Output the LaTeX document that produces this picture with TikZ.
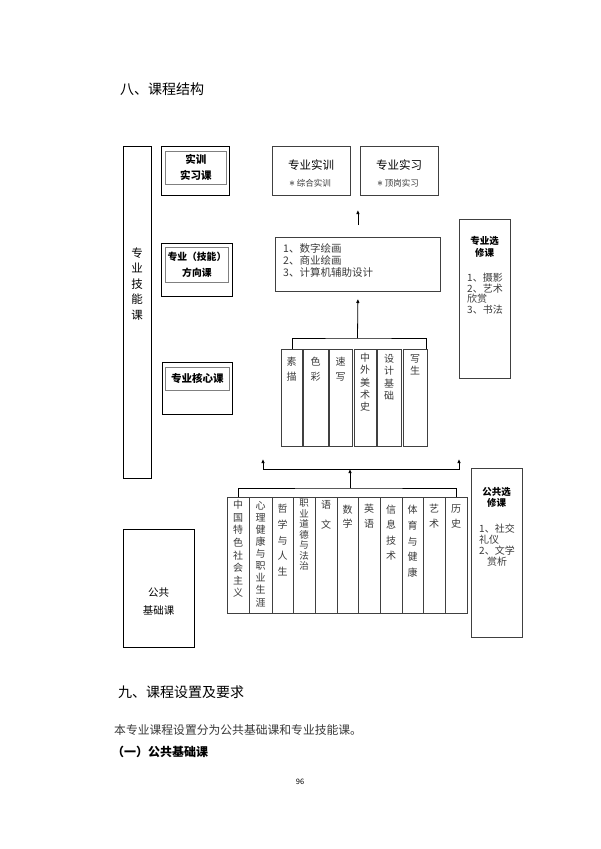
\documentclass[tikz,border=0pt]{standalone}
\usepackage{fontspec}
\setmainfont{Noto Sans CJK SC}
\usepackage{xcolor}
\usepackage{tikz}
\usetikzlibrary{arrows.meta}
\definecolor{framegray}{HTML}{808080}
\definecolor{textgray}{HTML}{3A3A3A}
\tikzset{
  upArrow/.style={-{Latex[length=4pt,width=3.5pt]},line width=0.8pt},
  framebox/.style={draw,line width=1.4pt,inner sep=0pt,anchor=north west},
  titlebox/.style={draw=framegray,line width=0.8pt,inner sep=0pt,anchor=north west,align=center,font=\fontsize{10.5}{16}\selectfont\bfseries},
  coursebox/.style={draw=black!75,line width=0.8pt,inner sep=0pt,anchor=north west},
  coltext/.style={anchor=north,inner sep=0pt,align=center,text=textgray,font=\fontsize{10}{#1}\selectfont},
  listtext/.style={anchor=north west,inner sep=0pt,align=left,text=textgray},
}
\newcommand{\starmark}{{\fontsize{12}{12}\selectfont$\ast$}}

\begin{document}
\begin{tikzpicture}[x=1pt,y=-1pt]
  \fill[white] (0,0) rectangle (600,849);
  \useasboundingbox (0,0) rectangle (600,849);
  \node[anchor=west,inner sep=0pt,font=\fontsize{14}{14}\selectfont] (headA) at (120,89) {八、课程结构};

  \node[framebox,line width=1.3pt,minimum width=28,minimum height=332] (jineng) at (123,146) {};
  \node[coltext=15.5,text=black,font=\fontsize{11.5}{15.5}\selectfont] (jinengT) at (137,247.5) {专\\业\\技\\能\\课};

  \node[framebox,minimum width=68,minimum height=49] (shixiA) at (161,146) {};
  \node[titlebox,minimum width=61,minimum height=33] (shixiB) at (165,151) {实训\\实习课};
  \node[framebox,minimum width=71,minimum height=53] (fangxiangA) at (161,243) {};
  \node[titlebox,minimum width=63,minimum height=35,font=\fontsize{9.8}{16}\selectfont\bfseries] (fangxiangB) at (165,247) {专业（技能）\\方向课};
  \node[framebox,minimum width=70,minimum height=52] (hexinA) at (162,362) {};
  \node[titlebox,minimum width=64,minimum height=23] (hexinB) at (165,367) {专业核心课};

  \node[coursebox,minimum width=78,minimum height=49] (zyshixun) at (272,146) {};
  \node[font=\fontsize{11.5}{12}\selectfont,inner sep=0pt] (zyshixunT) at (311,165) {专业实训};
  \node[font=\fontsize{8.5}{9}\selectfont,inner sep=0pt] (zyshixunS) at (310,183) {\starmark\ \textcolor{textgray}{综合实训}};
  \node[coursebox,minimum width=78,minimum height=49] (zyshixi) at (360,146) {};
  \node[font=\fontsize{11.5}{12}\selectfont,inner sep=0pt] (zyshixiT) at (399,165) {专业实习};
  \node[font=\fontsize{8.5}{9}\selectfont,inner sep=0pt] (zyshixiS) at (398,183) {\starmark\ \textcolor{textgray}{顶岗实习}};

  \node[coursebox,minimum width=165,minimum height=54] (list) at (275,237) {};
  \node[listtext,font=\fontsize{10.5}{12}\selectfont] (listT) at (283,243) {1、数字绘画\\2、商业绘画\\3、计算机辅助设计};

  \node[coursebox,minimum width=21,minimum height=97] (sumiao) at (281,349) {};
  \node[coursebox,minimum width=25,minimum height=97] (secai) at (303,349) {};
  \node[coursebox,minimum width=23,minimum height=97] (suxie) at (329,349) {};
  \node[coursebox,minimum width=22,minimum height=97] (meishu) at (354,349) {};
  \node[coursebox,minimum width=24,minimum height=97] (sheji) at (377,349) {};
  \node[coursebox,minimum width=24,minimum height=97] (xiesheng) at (403,349) {};
  \node[coltext=15] (sumiaoT) at (291.5,357) {素\\描};
  \node[coltext=15] (secaiT) at (315.5,357) {色\\彩};
  \node[coltext=15] (suxieT) at (340.5,357) {速\\写};
  \node[coltext=12.3] (meishuT) at (365,353) {中\\外\\美\\术\\史};
  \node[coltext=12.3] (shejiT) at (389,354) {设\\计\\基\\础};
  \node[coltext=12] (xieshengT) at (415,354) {写\\生};

  \node[coursebox,line width=1.1pt,minimum width=51,minimum height=159] (zyxuan) at (459,219) {};
  \node[anchor=north,inner sep=0pt,align=center,font=\fontsize{9.5}{12}\selectfont\bfseries] (zyxuanT) at (484.5,236) {专业选\\修课};
  \node[listtext,font=\fontsize{10}{10.6}\selectfont] (zyxuanL) at (467,273) {1、摄影\\2、艺术\\欣赏\\3、书法};

  \node[coursebox,minimum width=22,minimum height=116] (zhongguo) at (227,497) {};
  \node[coursebox,minimum width=23,minimum height=116] (xinli) at (249,497) {};
  \node[coursebox,minimum width=21,minimum height=116] (zhexue) at (272,497) {};
  \node[coursebox,minimum width=22,minimum height=116] (zhiye) at (293,497) {};
  \node[coursebox,minimum width=22,minimum height=116] (yuwen) at (315,497) {};
  \node[coursebox,minimum width=21,minimum height=116] (shuxue) at (337,497) {};
  \node[coursebox,minimum width=22,minimum height=116] (yingyu) at (358,497) {};
  \node[coursebox,minimum width=22,minimum height=116] (xinxi) at (380,497) {};
  \node[coursebox,minimum width=21,minimum height=116] (tiyu) at (402,497) {};
  \node[coursebox,minimum width=22,minimum height=116] (yishu) at (423,497) {};
  \node[coursebox,minimum width=22,minimum height=116] (lishi) at (445,497) {};
  \node[coltext=12.6] (zhongguoT) at (238,500) {中\\国\\特\\色\\社\\会\\主\\义};
  \node[coltext=12.1] (xinliT) at (260.5,501) {心\\理\\健\\康\\与\\职\\业\\生\\涯};
  \node[coltext=15.75] (zhexueT) at (282.5,504) {哲\\学\\与\\人\\生};
  \node[coltext=10.5,font=\fontsize{9.5}{10.5}\selectfont] (zhiyeT) at (304,499) {职\\业\\道\\德\\与\\法\\治};
  \node[coltext=20] (yuwenT) at (326,500) {语\\文};
  \node[coltext=14] (shuxueT) at (347.5,505) {数\\学};
  \node[coltext=15] (yingyuT) at (369,504) {英\\语};
  \node[coltext=15.3] (xinxiT) at (391,505) {信\\息\\技\\术};
  \node[coltext=15.75] (tiyuT) at (412.5,505) {体\\育\\与\\健\\康};
  \node[coltext=15] (yishuT) at (434,504) {艺\\术};
  \node[coltext=15] (lishiT) at (456,504) {历\\史};

  \node[draw,line width=0.9pt,minimum width=71,minimum height=118,inner sep=0pt,anchor=north west] (gongji) at (123,529) {};
  \node[align=center,inner sep=0pt,font=\fontsize{10.5}{18}\selectfont] (gongjiT) at (158.5,602) {公共\\基础课};

  \node[coursebox,line width=1.1pt,minimum width=51,minimum height=169] (gongxuan) at (471,468) {};
  \node[anchor=north,inner sep=0pt,align=center,font=\fontsize{9.5}{11.5}\selectfont\bfseries] (gongxuanT) at (496.5,487) {公共选\\修课};
  \node[listtext,font=\fontsize{10}{11}\selectfont] (gongxuanL) at (479,524) {1、社交\\礼仪\\2、文学\\\hspace*{8pt}赏析};

  \coordinate (coreBar) at (357.5,338);
  \draw[line width=0.8pt] (sumiao.north) |- (coreBar) -| ([xshift=-1pt]xiesheng.north east);
  \draw[upArrow] (coreBar) -- ([yshift=-7pt]list.south);
  \draw[upArrow] ([yshift=12pt]list.north) -- ([yshift=27pt]list.north);

  \coordinate (pubBar) at (350,488);
  \coordinate (upBar) at (350,469);
  \coordinate (upLeft) at (263,459);
  \coordinate (upRight) at (459,459);
  \draw[line width=0.8pt] (zhongguo.north) |- (pubBar) -| (lishi.north);
  \draw[upArrow] (pubBar) -- (upBar);
  \draw[upArrow] (upBar) -| (upLeft);
  \draw[upArrow] (upBar) -| (upRight);

  \node[anchor=west,inner sep=0pt,font=\fontsize{14}{14}\selectfont] (headB) at (118,692) {九、课程设置及要求};
  \node[anchor=west,inner sep=0pt,font=\fontsize{11.8}{12}\selectfont,text=textgray] (intro) at (114,730) {本专业课程设置分为公共基础课和专业技能课。};
  \node[anchor=west,inner sep=0pt,font=\fontsize{12}{12}\selectfont\bfseries] (subA) at (112,752) {（一）公共基础课};
  \node[inner sep=0pt,font=\fontsize{7.5}{8}\selectfont] (pageno) at (300,782) {96};
\end{tikzpicture}
\end{document}
